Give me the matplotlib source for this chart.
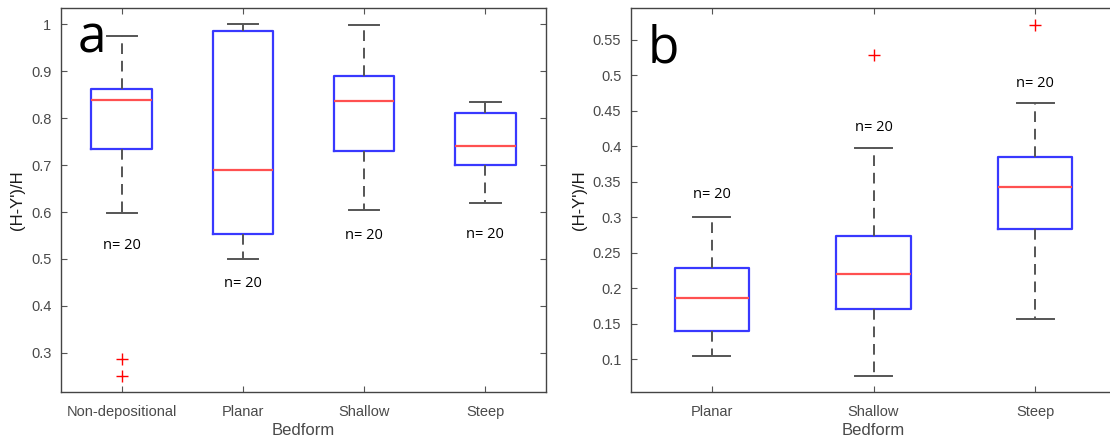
import matplotlib.pyplot as plt

# panel a
cats_a = ['Non-depositional', 'Planar', 'Shallow', 'Steep']
whislo_a = [0.597, 0.499, 0.604, 0.619]
q1_a = [0.735, 0.553, 0.730, 0.700]
med_a = [0.838, 0.689, 0.836, 0.740]
q3_a = [0.861, 0.986, 0.890, 0.811]
whishi_a = [0.975, 0.999, 0.997, 0.834]
fliers_a = [[0.288, 0.251], [], [], []]
n_a = [20, 20, 20, 20]
ny_a = [0.528, 0.447, 0.551, 0.553]
yticks_a = [0.3, 0.4, 0.5, 0.6, 0.7, 0.8, 0.9, 1.0]
yticklabels_a = ['0.3', '0.4', '0.5', '0.6', '0.7', '0.8', '0.9', '1']

# panel b
cats_b = ['Planar', 'Shallow', 'Steep']
whislo_b = [0.104, 0.076, 0.157]
q1_b = [0.140, 0.171, 0.284]
med_b = [0.187, 0.220, 0.343]
q3_b = [0.228, 0.274, 0.385]
whishi_b = [0.300, 0.398, 0.461]
fliers_b = [[], [0.528], [0.571]]
n_b = [20, 20, 20]
ny_b = [0.332, 0.426, 0.489]
yticks_b = [0.1, 0.15, 0.2, 0.25, 0.3, 0.35, 0.4, 0.45, 0.5, 0.55]
yticklabels_b = ['0.1', '0.15', '0.2', '0.25', '0.3', '0.35', '0.4', '0.45', '0.5', '0.55']

TICK_COL = '#4a4a4a'


def make_stats(cats, lo, q1, med, q3, hi, fl):
    stats = []
    for i in range(len(cats)):
        stats.append(dict(label=cats[i], whislo=lo[i], q1=q1[i], med=med[i],
                          q3=q3[i], whishi=hi[i], fliers=fl[i]))
    return stats


def draw_panel(ax, stats, ns, ny, yticks, yticklabels, ylim, width, letter, letter_y):
    ax.bxp(stats, positions=range(1, len(stats) + 1), widths=width,
           showfliers=True, capwidths=width / 2,
           boxprops=dict(color='#3838ff', linewidth=1.6),
           medianprops=dict(color='#ff5050', linewidth=1.6),
           whiskerprops=dict(color='#555555', linewidth=1.4, linestyle=(0, (5.5, 3.5))),
           capprops=dict(color='#555555', linewidth=1.4),
           flierprops=dict(marker='+', markeredgecolor='red', markersize=8,
                           markeredgewidth=1.0, linestyle='none'))
    for i, n in enumerate(ns):
        ax.text(i + 1, ny[i], 'n= %d' % n, ha='center', va='center',
                fontsize=10.5, family='Open Sans', color='black')
    ax.set_xlim(0.5, len(stats) + 0.5)
    ax.set_ylim(ylim)
    ax.set_yticks(yticks)
    ax.set_yticklabels(yticklabels)
    ax.tick_params(direction='in', length=4, width=0.8, colors='#555555',
                   labelcolor=TICK_COL, labelsize=10.5, top=True, right=True, pad=7)
    ax.tick_params(axis='x', pad=9)
    for sp in ax.spines.values():
        sp.set_color('#444444')
        sp.set_linewidth(1.0)
    ax.set_xlabel('Bedform', fontsize=12, color=TICK_COL, labelpad=3)
    ax.set_ylabel("(H-Y')/H", fontsize=12, color='#1a1a1a', labelpad=4)
    ax.text(0.034, letter_y, letter, transform=ax.transAxes, fontsize=37,
            family='Open Sans', va='baseline', ha='left', color='black')


def main():
    plt.rcParams['font.family'] = ['Liberation Sans', 'DejaVu Sans']
    fig = plt.figure(figsize=(11.1, 4.41), dpi=100)
    ax_a = fig.add_axes([0.0550, 0.1111, 0.4369, 0.8707])
    ax_b = fig.add_axes([0.5685, 0.1111, 0.4369, 0.8707])

    stats_a = make_stats(cats_a, whislo_a, q1_a, med_a, q3_a, whishi_a, fliers_a)
    stats_b = make_stats(cats_b, whislo_b, q1_b, med_b, q3_b, whishi_b, fliers_b)

    draw_panel(ax_a, stats_a, n_a, ny_a, yticks_a, yticklabels_a,
               (0.217, 1.034), 0.5, 'a', 0.885)
    draw_panel(ax_b, stats_b, n_b, ny_b, yticks_b, yticklabels_b,
               (0.054, 0.5947), 0.46, 'b', 0.859)

    fig.savefig('out.png', dpi=100)


if __name__ == '__main__':
    main()
